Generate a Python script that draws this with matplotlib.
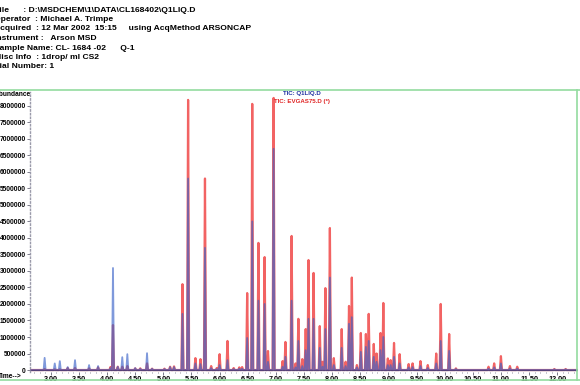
import numpy as np
import matplotlib.pyplot as plt
from matplotlib.lines import Line2D
from matplotlib.ticker import MultipleLocator, FuncFormatter

plt.rcParams['font.family'] = ['Liberation Sans', 'DejaVu Sans']

# header block of the report (left part cropped in the scan)
header = [
    "File      : D:\\MSDCHEM\\1\\DATA\\CL168402\\Q1LIQ.D",
    "Operator  : Michael A. Trimpe",
    "Acquired  : 12 Mar 2002  15:15     using AcqMethod ARSONCAP",
    "Instrument :   Arson MSD",
    "Sample Name: CL- 1684 -02      Q-1",
    "Misc Info  : 1drop/ ml CS2",
    "Vial Number: 1",
]

# peak table: retention time (min) and abundance
rt = [2.89, 3.07, 3.16, 3.30, 3.43, 3.68, 3.84, 4.06, 4.105, 4.19, 4.27, 4.36,
      4.50, 4.59, 4.71, 4.80, 5.02, 5.12, 5.19, 5.34, 5.44, 5.57, 5.66, 5.74,
      5.85, 5.95, 6.00, 6.14, 6.25, 6.35, 6.40, 6.49, 6.58, 6.69, 6.80, 6.86,
      6.96, 7.12, 7.17, 7.28, 7.35, 7.40, 7.47, 7.53, 7.58, 7.67, 7.78, 7.83,
      7.88, 7.96, 8.03, 8.17, 8.24, 8.30, 8.35, 8.44, 8.51, 8.60, 8.65, 8.74,
      8.79, 8.86, 8.91, 8.99, 9.04, 9.10, 9.20, 9.36, 9.43, 9.57, 9.70, 9.85,
      9.93, 10.08, 10.20, 10.78, 10.88, 11.00, 11.16, 11.29, 11.95, 12.15]
q1liq = [370000, 200000, 270000, 90000, 300000, 150000, 120000, 60000, 3090000,
         100000, 390000, 480000, 60000, 40000, 510000, 40000, 30000, 90000, 90000,
         1700000, 5800000, 200000, 180000, 3700000, 60000, 30000, 150000, 300000,
         30000, 40000, 40000, 970000, 4500000, 2100000, 2000000, 250000, 6700000,
         100000, 400000, 2100000, 80000, 880000, 120000, 600000, 1550000, 1550000,
         670000, 100000, 1240000, 2800000, 150000, 670000, 120000, 1400000,
         1600000, 80000, 550000, 700000, 880000, 400000, 250000, 600000, 1000000,
         150000, 150000, 400000, 200000, 80000, 90000, 120000, 60000, 200000,
         880000, 580000, 30000, 40000, 80000, 200000, 50000, 40000, 20000, 20000]
evgas75 = [30000, 20000, 20000, 60000, 60000, 50000, 80000, 90000, 1360000,
           100000, 100000, 120000, 50000, 50000, 200000, 40000, 40000, 100000,
           110000, 2600000, 8180000, 360000, 330000, 5800000, 120000, 60000,
           480000, 880000, 60000, 80000, 90000, 2330000, 8060000, 3850000,
           3420000, 575000, 8240000, 270000, 850000, 4060000, 200000, 1550000,
           330000, 1240000, 3330000, 2940000, 1330000, 250000, 2480000, 4300000,
           360000, 1240000, 250000, 1940000, 2800000, 150000, 1120000, 1090000,
           1700000, 790000, 500000, 1120000, 2030000, 350000, 300000, 820000,
           480000, 180000, 200000, 270000, 150000, 500000, 2000000, 1090000,
           50000, 100000, 200000, 420000, 120000, 100000, 30000, 30000]

t_start, t_end = 2.63, 12.37


def trace(times, heights, w=0.018):
    xs, ys = [t_start], [0]
    for t, h in zip(times, heights):
        xs += [t - w, t, t + w]
        ys += [0, h, 0]
    xs.append(t_end)
    ys.append(0)
    return np.array(xs), np.array(ys)


W, H = 580, 385
fig = plt.figure(figsize=(W / 100, H / 100), dpi=100)
ax = fig.add_axes([30 / W, 1 - 372 / H, 548 / W, 280 / H])

xr, yr = trace(rt, evgas75)
xb, yb = trace(rt, q1liq)
ax.plot(xr, yr, color='#f04848', lw=1.6, alpha=0.85)
ax.plot(xb, yb, color='#3a62c8', lw=1.3, alpha=0.65)
ax.axhline(0, color='#4a3a70', lw=0.9, alpha=0.8)

ax.set_xlim(t_start, t_end)
ax.set_ylim(-60000, 8420000)
ax.xaxis.set_major_locator(MultipleLocator(0.5))
ax.xaxis.set_minor_locator(MultipleLocator(0.1))
ax.yaxis.set_major_locator(MultipleLocator(500000))
ax.xaxis.set_major_formatter(FuncFormatter(lambda v, p: f"{v:.2f}"))
ax.yaxis.set_major_formatter(FuncFormatter(lambda v, p: f"{int(round(v))}"))
ax.tick_params(axis='both', pad=1, length=2, width=0.6, colors='#666677',
               labelcolor='black')
ax.tick_params(axis='x', labelsize=5.2)
ax.tick_params(axis='y', labelsize=4.8)
ax.tick_params(axis='x', which='minor', length=1, width=0.5, colors='#666677')
for lab in ax.get_xticklabels() + ax.get_yticklabels():
    lab.set_fontweight('bold')
for s in ['top', 'right', 'bottom']:
    ax.spines[s].set_visible(False)
ax.spines['left'].set_color('#9a9aaa')
ax.spines['left'].set_linestyle(':')
ax.spines['left'].set_linewidth(1.0)

# legend labels of the overlay
fig.text(302 / W, 1 - 93 / H, "TIC: Q1LIQ.D", color='#1c2fa0', fontsize=4.4,
         fontweight='bold', ha='center', va='center')
fig.text(302 / W, 1 - 101 / H, "TIC: EVGAS75.D (*)", color='#e02525', fontsize=4.4,
         fontweight='bold', ha='center', va='center')

# report frame lines
green = '#93dca0'
fig.add_artist(Line2D([0, 1], [1 - 90 / H] * 2, transform=fig.transFigure, color=green, lw=1.2))
fig.add_artist(Line2D([0, 1], [1 - 380 / H] * 2, transform=fig.transFigure, color=green, lw=1.2))
fig.add_artist(Line2D([577 / W] * 2, [1 - 90 / H, 1 - 380 / H], transform=fig.transFigure,
                      color=green, lw=1.2))

fig.text(31 / W, 1 - 95 / H, "Abundance", fontsize=4.8, fontweight='bold', ha='right', va='center')
fig.text(22 / W, 1 - 377 / H, "Time-->", fontsize=4.8, fontweight='bold', ha='right', va='center')

for i, line in enumerate(header):
    fig.text(-6 / W, 1 - (10 + 9.5 * i) / H, line, fontsize=6.1, ha='left', va='center',
             fontweight='bold')

fig.savefig("out.png", dpi=100, facecolor='white')
